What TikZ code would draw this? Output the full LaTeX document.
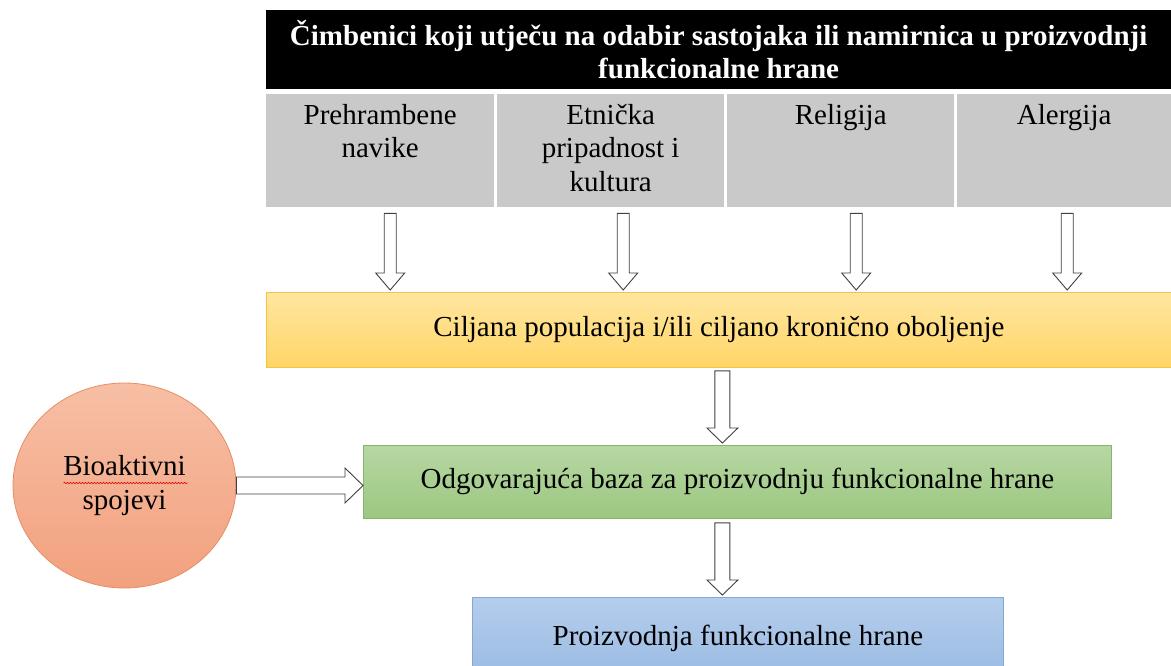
\documentclass[tikz,border=0pt]{standalone}
\usepackage{fontspec}
\setmainfont{Liberation Serif}
\usetikzlibrary{calc,shapes.geometric,decorations.pathmorphing}
\definecolor{cellgray}{HTML}{C9C9C9}
\definecolor{yelT}{HTML}{FFE6A0}
\definecolor{yelB}{HTML}{FFD567}
\definecolor{yelD}{HTML}{F6C243}
\definecolor{grnT}{HTML}{B6D7A3}
\definecolor{grnB}{HTML}{9CC780}
\definecolor{grnD}{HTML}{88B46E}
\definecolor{bluT}{HTML}{B4CDEC}
\definecolor{bluB}{HTML}{9BBBE3}
\definecolor{bluD}{HTML}{84A7D5}
\definecolor{orT}{HTML}{F7BFA5}
\definecolor{orB}{HTML}{F2A17E}
\definecolor{orD}{HTML}{E88C64}
\definecolor{arrD}{HTML}{404040}
\newcommand\fsz{\fontsize{29}{33.5}\selectfont}
\newcommand\barrowdown[5]{%
  \draw[barrow] let \p1=(#1), \p2=(#2) in
  (\x1-#3pt,\y1) -- (\x1+#3pt,\y1) -- (\x1+#3pt,\y2+#5pt) -- (\x1+#4pt,\y2+#5pt)
  -- (\x1,\y2) -- (\x1-#4pt,\y2+#5pt) -- (\x1-#3pt,\y2+#5pt) -- cycle;}
\newcommand\barrowright[5]{%
  \draw[barrow] let \p1=(#1), \p2=(#2) in
  (\x1,\y1+#3pt) -- (\x2-#5pt,\y1+#3pt) -- (\x2-#5pt,\y1+#4pt) -- (\x2,\y1)
  -- (\x2-#5pt,\y1-#4pt) -- (\x2-#5pt,\y1-#3pt) -- (\x1,\y1-#3pt) -- cycle;}
\begin{document}
\begin{tikzpicture}[x=1pt,y=-1pt,
  box/.style={inner sep=0pt, anchor=north west, font=\fsz, align=center},
  cell/.style={box, fill=cellgray},
  celltext/.style={inner sep=0pt, anchor=north, font=\fsz, align=center},
  barrow/.style={draw=arrD, fill=white, line width=0.9pt, line join=miter},
]
\useasboundingbox (0,0) rectangle (1171,666);

% header
\node[box, fill=black, text=white, font=\fsz\bfseries, minimum width=905pt, minimum height=79pt]
  (hdr) at (266,10) {Čimbenici koji utječu na odabir sastojaka ili namirnica u proizvodnji\\funkcionalne hrane};

% grey cells
\node[cell, minimum width=228pt, minimum height=113pt] (c1) at (266,94) {};
\node[cell, minimum width=227pt, minimum height=113pt] (c2) at (497,94) {};
\node[cell, minimum width=227pt, minimum height=113pt] (c3) at (727,94) {};
\node[cell, minimum width=214pt, minimum height=113pt] (c4) at (957,94) {};
\node[celltext] (t1) at ($(c1.north)+(0,10)$) {Prehrambene\\navike};
\node[celltext] (t2) at ($(c2.north)+(0,10)$) {Etnička\\pripadnost i\\kultura};
\node[celltext] (t3) at ($(c3.north)+(0,10)$) {Religija};
\node[celltext] (t4) at ($(c4.north)+(0,10)$) {Alergija};

% yellow
\node[box, top color=yelT, bottom color=yelB, draw=yelD, line width=0.8pt,
  minimum width=905pt, minimum height=75pt] (yel) at (266,292)
  {Ciljana populacija i/ili ciljano kronično oboljenje};

% green
\node[box, top color=grnT, bottom color=grnB, draw=grnD, line width=0.8pt,
  minimum width=748pt, minimum height=73pt] (grn) at (363,445)
  {Odgovarajuća baza za proizvodnju funkcionalne hrane};

% blue
\node[box, top color=bluT, bottom color=bluB, draw=bluD, line width=0.8pt,
  minimum width=531pt, minimum height=80pt, text depth=5pt] (blu) at (472,597)
  {Proizvodnja funkcionalne hrane};

% circle
\node[ellipse, top color=orT, bottom color=orB, draw=orD, line width=0.8pt,
  minimum width=223pt, minimum height=205pt, inner sep=0pt, font=\fsz, align=center]
  (circ) at (124.5,485.5) {Bioaktivni\\spojevi};
\draw[red!85!black, line width=0.6pt, decorate,
  decoration={snake, amplitude=0.7pt, segment length=3pt}]
  ($(circ.center)+(-61,-2.5)$) -- ($(circ.center)+(63,-2.5)$);

% arrows from cells to yellow
\barrowdown{$(c1.south)+(10,6)$}{$(c1.south |- yel.north)+(10,-2)$}{6}{14.5}{17}
\barrowdown{$(c2.south)+(12.5,6)$}{$(c2.south |- yel.north)+(12.5,-2)$}{6}{14.5}{17}
\barrowdown{$(c3.south)+(15.5,6)$}{$(c3.south |- yel.north)+(15.5,-2)$}{6}{14.5}{17}
\barrowdown{$(c4.south)+(3,6)$}{$(c4.south |- yel.north)+(3,-2)$}{6}{14.5}{17}

% yellow -> green, green -> blue
\barrowdown{$(yel.south)+(3.5,3)$}{$(yel.south |- grn.north)+(3.5,-2)$}{7.5}{15.5}{15}
\barrowdown{$(yel.south |- grn.south)+(3.5,4)$}{$(yel.south |- blu.north)+(3.5,-2)$}{7.5}{15.5}{15}

% circle -> green
\barrowright{circ.east}{circ.east -| grn.west}{8.5}{17.5}{18}
\end{tikzpicture}
\end{document}
